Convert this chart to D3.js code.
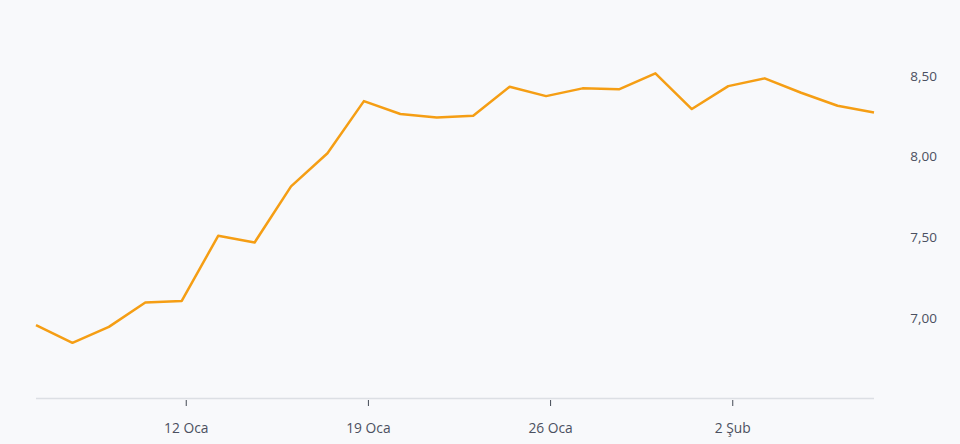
<!DOCTYPE html>
<html>
<head>
<meta charset="utf-8">
<script src="https://cdn.jsdelivr.net/npm/d3@7"></script>
<style>
  html, body { margin: 0; padding: 0; background: #f8f9fb; }
  svg { display: block; }
  text { font-family: "Open Sans", "Noto Sans", sans-serif; }
</style>
</head>
<body>
<svg id="chart" width="960" height="444"></svg>
<script>
const dates = ["2026-01-06","2026-01-07","2026-01-08","2026-01-09","2026-01-12","2026-01-13","2026-01-14","2026-01-15","2026-01-16","2026-01-19","2026-01-20","2026-01-21","2026-01-22","2026-01-23","2026-01-26","2026-01-27","2026-01-28","2026-01-29","2026-01-30","2026-02-02","2026-02-03","2026-02-04","2026-02-05","2026-02-06"];
const values = [6.955, 6.845, 6.944, 7.095, 7.105, 7.508, 7.467, 7.815, 8.02, 8.343, 8.263, 8.242, 8.252, 8.432, 8.374, 8.422, 8.416, 8.515, 8.294, 8.436, 8.484, 8.395, 8.314, 8.273];
const xTickDates = ["2026-01-12","2026-01-19","2026-01-26","2026-02-02"];
const xTickLabels = ["12 Oca","19 Oca","26 Oca","2 Şub"];
const yTicks = [7.0, 7.5, 8.0, 8.5];
const yTickLabels = ["7,00","7,50","8,00","8,50"];

const svg = d3.select("#chart");
const x = d3.scalePoint().domain(dates).range([36, 874]);
const y = d3.scaleLinear().domain([6.5, 9]).range([398.5, -4.9]);
const tickShift = 4.5;

// x axis line
svg.append("line")
  .attr("x1", 36).attr("x2", 874)
  .attr("y1", 398.5).attr("y2", 398.5)
  .attr("stroke", "#dcdfe4").attr("stroke-width", 1.5);

// x ticks
const xt = svg.append("g").selectAll("g").data(xTickDates).join("g")
  .attr("transform", d => `translate(${x(d) + tickShift},0)`);
xt.append("line").attr("y1", 400).attr("y2", 406)
  .attr("stroke", "#444a55").attr("stroke-width", 1);
xt.append("text").attr("y", 433).attr("text-anchor", "middle")
  .attr("font-size", 13.8).attr("fill", "#4b5060")
  .text((d, i) => xTickLabels[i]);

// y labels
svg.append("g").selectAll("text").data(yTicks).join("text")
  .attr("x", 937).attr("y", d => y(d))
  .attr("dy", "0.35em").attr("text-anchor", "end")
  .attr("font-size", 13.5).attr("fill", "#4b5060")
  .text((d, i) => yTickLabels[i]);

// line
const line = d3.line().x((d, i) => x(dates[i])).y(d => y(d));
svg.append("path").datum(values)
  .attr("d", line)
  .attr("fill", "none")
  .attr("stroke", "#f59e14")
  .attr("stroke-width", 2.5)
  .attr("stroke-linejoin", "round");
</script>
</body>
</html>
